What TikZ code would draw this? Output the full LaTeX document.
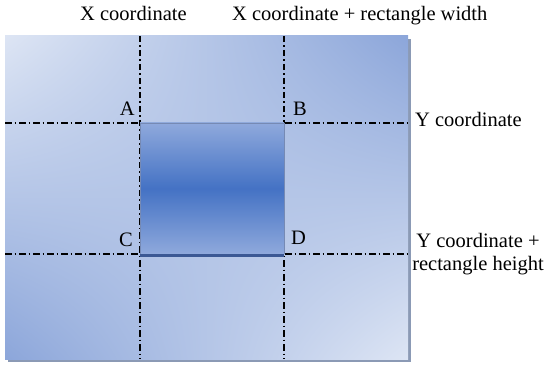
\documentclass[tikz,border=0pt]{standalone}
\usepackage{fontspec}
\setmainfont{Liberation Serif}
\usetikzlibrary{positioning,calc,shadings}

\definecolor{panellight}{HTML}{DDE5F4}
\definecolor{paneldark}{HTML}{8CA6DA}
\definecolor{boxmid}{HTML}{4472C4}
\definecolor{boxedge}{HTML}{8FA9DC}
\definecolor{boxline}{HTML}{3B5894}
\definecolor{shadowgray}{HTML}{8B9AB5}

\tikzset{
    guide/.style={line width=1.1pt, dash pattern=on 6.5pt off 3pt on 1.5pt off 3pt},
    lbl/.style={font=\fontsize{20.5}{23}\selectfont, inner sep=0pt},
}

\begin{document}
\begin{tikzpicture}[x=1pt,y=-1pt]
    \useasboundingbox (0,0) rectangle (554,366);

    % Panel
    \coordinate (tl) at (5,36);
    \coordinate (br) at (408,359);
    \coordinate (xr) at (411,359);
    \fill[shadowgray] (8,39) rectangle (411,362);
    \shade[upper left=panellight, upper right=paneldark,
           lower left=paneldark, lower right=panellight] (tl) rectangle (br);

    % Rectangle corners
    \coordinate (A) at (140,123);
    \coordinate (B) at (284,123);
    \coordinate (C) at (140,254);
    \coordinate (D) at (284,254);

    % Guide lines
    \draw[guide] (A |- tl) -- (A |- br);
    \draw[guide] (B |- tl) -- (B |- br);
    \draw[guide] (tl |- A) -- (xr |- A);
    \draw[guide] (tl |- C) -- (xr |- C);

    % Rectangle
    \shade[top color=boxedge, bottom color=boxedge, middle color=boxmid] (A) rectangle (D);
    \draw[boxline!70, line width=0.6pt] (C) -- (A) -- (B) -- (D);
    \fill[boxline] ($(C)+(0,-0.5)$) rectangle ($(D)+(0,3)$);

    % Corner labels
    \node[lbl, above left=7pt and 5pt of A] (labA) {A};
    \node[lbl, above right=7pt and 9pt of B] (labB) {B};
    \node[lbl, above left=7pt and 7pt of C] (labC) {C};
    \node[lbl, above right=9pt and 7pt of D] (labD) {D};

    % Axis labels
    \node[lbl, anchor=base west] (xcoord) at (80,21) {X coordinate};
    \node[lbl, anchor=base west] (xwidth) at (232,21) {X coordinate + rectangle width};
    \node[lbl, anchor=base west] (ycoord) at (415,127) {Y coordinate};
    \node[lbl, anchor=base, align=center] (yheight) at (478,270) {Y coordinate +\\rectangle height};
\end{tikzpicture}
\end{document}
